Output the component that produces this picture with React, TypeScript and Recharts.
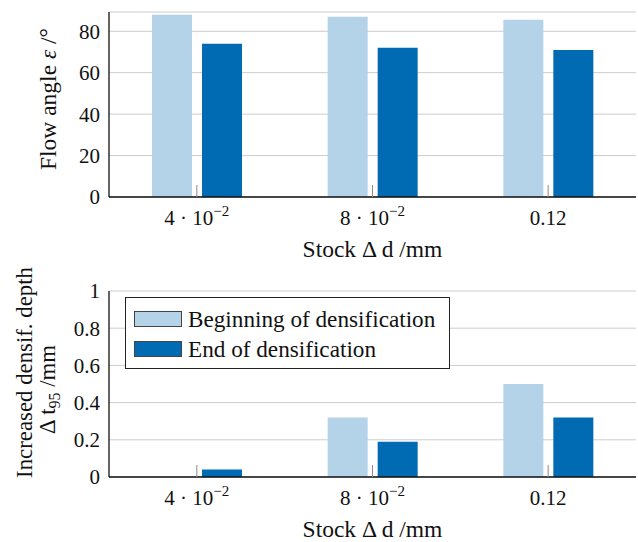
import React from 'react';
import { BarChart, Bar, XAxis, YAxis, CartesianGrid, Legend } from 'recharts';

// Stock removal categories (mm) and their tick label parts
const categories = ['0.04', '0.08', '0.12'];
const tickBase = ['4 · 10', '8 · 10', '0.12'];
const tickExp = ['−2', '−2', ''];

// Flow angle ε in degrees
const flowBegin = [88, 87, 85.5];
const flowEnd = [74, 72, 71];
const flowTicks = [0, 20, 40, 60, 80];

// Increased densification depth Δt95 in mm
const depthBegin = [0, 0.32, 0.5];
const depthEnd = [0.04, 0.19, 0.32];
const depthTicks = [0, 0.2, 0.4, 0.6, 0.8, 1];

const seriesNames = ['Beginning of densification', 'End of densification'];
const LIGHT = '#b4d3e8';
const DARK = '#006ab3';
const FONT = 'Liberation Serif, DejaVu Serif, Tinos, Times, serif';
const TITLE_SIZE = 23.5;

const flowData = categories.map((c, i) => ({ cat: c, begin: flowBegin[i], end: flowEnd[i] }));
const depthData = categories.map((c, i) => ({ cat: c, begin: depthBegin[i], end: depthEnd[i] }));

const XTick = (props: any) => {
  const { x, y, payload } = props;
  const i = payload.index;
  return (
    <g>
      <line x1={x} x2={x} y1={y} y2={y - 12} stroke="#8a8a8a" strokeWidth={1} />
      <text x={x} y={y + 28} textAnchor="middle" fontSize={21} style={{ fontFamily: FONT }} fill="#111">
        {tickBase[i]}
        {tickExp[i] ? (
          <tspan dy={-9} fontSize={15}>
            {tickExp[i]}
          </tspan>
        ) : null}
      </text>
    </g>
  );
};

const XTitle = (props: any) => {
  const vb = props.viewBox || { x: 109, y: 197, width: 528 };
  return (
    <text
      x={vb.x + vb.width / 2}
      y={vb.y + 60}
      textAnchor="middle"
      fontSize={TITLE_SIZE}
      style={{ fontFamily: FONT }}
      fill="#111"
    >
      Stock <tspan>Δ</tspan> d /mm
    </text>
  );
};

const FlowTitle = () => (
  <text
    x={56}
    y={99}
    transform="rotate(-90, 56, 99)"
    textAnchor="middle"
    fontSize={TITLE_SIZE}
    style={{ fontFamily: FONT }}
    fill="#111"
  >
    Flow angle <tspan fontStyle="italic">ε</tspan> /°
  </text>
);

const DepthTitle = () => (
  <g>
    <text
      x={32}
      y={106.5}
      transform="rotate(-90, 32, 106.5)"
      textAnchor="middle"
      fontSize={22.8}
      style={{ fontFamily: FONT }}
      fill="#111"
    >
      Increased densif. depth
    </text>
    <text
      x={55}
      y={123.5}
      transform="rotate(-90, 55, 123.5)"
      textAnchor="middle"
      fontSize={22.8}
      style={{ fontFamily: FONT }}
      fill="#111"
    >
      Δ t<tspan dy={5} fontSize={16}>95</tspan>
      <tspan dy={-5}> /mm</tspan>
    </text>
  </g>
);

const LegendBox = (props: any) => {
  const items = props.payload || [];
  return (
    <div
      style={{
        width: 325,
        height: 72,
        boxSizing: 'border-box',
        border: '1px solid #222',
        background: '#fff',
        paddingTop: 6,
        fontFamily: FONT,
        fontSize: 23.2,
        color: '#111',
      }}
    >
      {items.map((it: any) => (
        <div key={it.value} style={{ display: 'flex', alignItems: 'center', height: 30 }}>
          <div
            style={{
              marginLeft: 8,
              width: 48,
              height: 16,
              boxSizing: 'border-box',
              border: '1px solid #444',
              background: it.color,
            }}
          />
          <span style={{ marginLeft: 6, lineHeight: '30px', whiteSpace: 'nowrap' }}>{it.value}</span>
        </div>
      ))}
    </div>
  );
};

const tickStyle = { fontSize: 21, fontFamily: FONT, fill: '#111' };

export default function App() {
  return (
    <div style={{ position: 'absolute', left: 0, top: 0, width: 638, height: 542, background: '#fff', fontFamily: FONT }}>
      <BarChart
        width={638}
        height={266}
        data={flowData}
        margin={{ top: 12, right: 2, left: 9, bottom: 0 }}
        barSize={40}
        barGap={10}
      >
        <CartesianGrid vertical={false} stroke="#cccccc" strokeWidth={1} />
        <XAxis
          dataKey="cat"
          height={69}
          axisLine={{ stroke: '#111', strokeWidth: 1.3 }}
          tickLine={false}
          tickSize={0}
          tickMargin={0}
          tick={<XTick />}
          interval={0}
          label={<XTitle />}
        />
        <YAxis
          width={100}
          domain={[0, 89.3]}
          ticks={flowTicks}
          axisLine={{ stroke: '#111', strokeWidth: 1.3 }}
          tickLine={false}
          tickSize={0}
          tickMargin={9}
          tick={tickStyle}
          label={<FlowTitle />}
        />
        <Bar dataKey="begin" name={seriesNames[0]} fill={LIGHT} isAnimationActive={false} />
        <Bar dataKey="end" name={seriesNames[1]} fill={DARK} isAnimationActive={false} />
      </BarChart>
      <BarChart
        width={638}
        height={276}
        data={depthData}
        margin={{ top: 25, right: 2, left: 9, bottom: 0 }}
        barSize={40}
        barGap={10}
      >
        <CartesianGrid vertical={false} stroke="#cccccc" strokeWidth={1} />
        <XAxis
          dataKey="cat"
          height={65}
          axisLine={{ stroke: '#111', strokeWidth: 1.3 }}
          tickLine={false}
          tickSize={0}
          tickMargin={0}
          tick={<XTick />}
          interval={0}
          label={<XTitle />}
        />
        <YAxis
          width={100}
          domain={[0, 1]}
          ticks={depthTicks}
          axisLine={{ stroke: '#111', strokeWidth: 1.3 }}
          tickLine={false}
          tickSize={0}
          tickMargin={9}
          tick={tickStyle}
          label={<DepthTitle />}
        />
        <Legend
          layout="vertical"
          align="center"
          verticalAlign="middle"
          content={<LegendBox />}
          wrapperStyle={{ left: 125, top: 31, width: 325, height: 72 }}
        />
        <Bar dataKey="begin" name={seriesNames[0]} fill={LIGHT} isAnimationActive={false} />
        <Bar dataKey="end" name={seriesNames[1]} fill={DARK} isAnimationActive={false} />
      </BarChart>
    </div>
  );
}
